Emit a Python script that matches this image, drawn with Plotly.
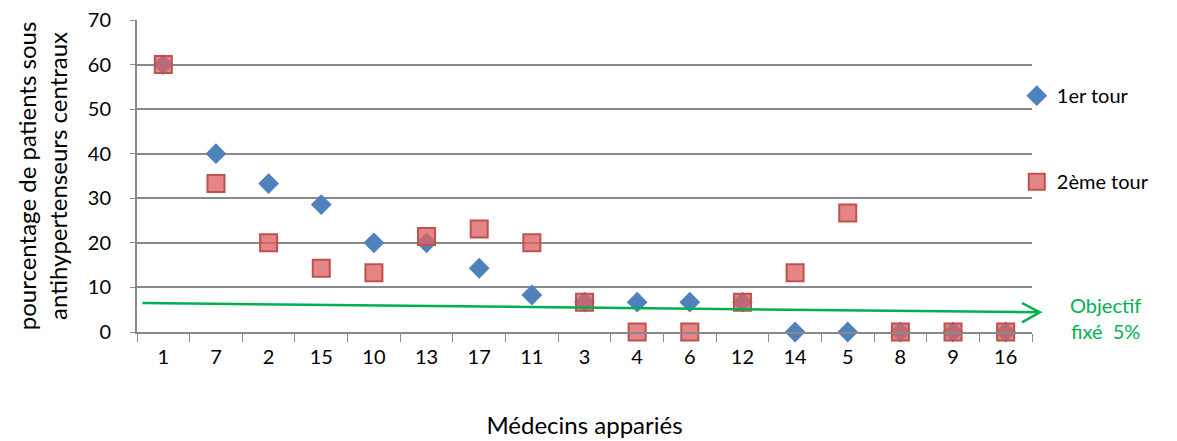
import plotly.graph_objects as go

# Médecins appariés (ordre de l'axe)
medecins = ["1", "7", "2", "15", "10", "13", "17", "11", "3", "4", "6", "12", "14", "5", "8", "9", "16"]
tour1 = [60, 40, 33.3, 28.6, 20, 20, 14.3, 8.3, 6.7, 6.7, 6.7, 6.7, 0, 0, 0, 0, 0]
tour2 = [60, 33.3, 20, 14.3, 13.3, 21.4, 23.1, 20, 6.7, 0, 0, 6.7, 13.3, 26.7, 0, 0, 0]

FONT = "Lato"
GREEN = "#00b050"
GRID = "#898989"

fig = go.Figure()
fig.add_trace(go.Scatter(
    x=medecins, y=tour1, mode="markers", name="1er tour", legendgroup="a",
    marker=dict(symbol="diamond", size=16, color="#4f81bd", line=dict(width=0)),
    cliponaxis=False))
fig.add_trace(go.Scatter(
    x=medecins, y=tour2, mode="markers", name="2ème tour", legendgroup="b",
    marker=dict(symbol="square", size=17, color="rgba(220,100,100,0.78)",
                line=dict(width=2, color="#c0504d")),
    cliponaxis=False))

# flèche objectif 5% (en coordonnées papier pour dépasser la zone de tracé)
fig.add_shape(type="line", xref="paper", yref="paper", x0=0.006, y0=0.093, x1=1.0088, y1=0.063,
              line=dict(color=GREEN, width=2.5))
fig.add_shape(type="path", xref="paper", yref="paper",
              path="M 0.9888,0.093 L 1.0088,0.063 L 0.9888,0.031",
              line=dict(color=GREEN, width=2.5))
fig.add_annotation(x=1.0, xref="paper", xanchor="center", xshift=73, y=3.2, yref="y",
                   text="Objectif<br>fixé  5%", showarrow=False, align="center",
                   font=dict(family=FONT, size=20, color=GREEN))

# la page ajoute 8px de marge autour du graphique
fig.update_layout(
    width=1177, height=441,
    margin=dict(l=129, r=153, t=12, b=117, autoexpand=False),
    plot_bgcolor="white", paper_bgcolor="white",
    font=dict(family=FONT, size=20, color="#000000"),
    showlegend=True,
    legend=dict(x=0.983, xanchor="left", y=0.82, yanchor="top", traceorder="grouped",
                tracegroupgap=57, font=dict(family=FONT, size=20),
                itemwidth=30, bgcolor="rgba(0,0,0,0)"),
    xaxis=dict(type="category", range=[-0.5, 16.5], tickson="boundaries",
               ticks="outside", ticklen=8,
               tickcolor=GRID, showline=True, linecolor=GRID, linewidth=2,
               showgrid=False, ticklabelstandoff=6, automargin=False,
               title=dict(text="Médecins appariés", standoff=50)),
    yaxis=dict(range=[0, 70], dtick=10, showgrid=True, gridcolor=GRID, gridwidth=2,
               showline=True, linecolor=GRID, linewidth=2, ticks="outside",
               ticklen=5, tickcolor=GRID, zeroline=False, ticklabelstandoff=15,
               ticklabeloverflow="allow", automargin=False,
               title=dict(text="pourcentage de patients sous<br>antihypertenseurs centraux",
                          standoff=13)),
)

fig.write_html("out.html")
